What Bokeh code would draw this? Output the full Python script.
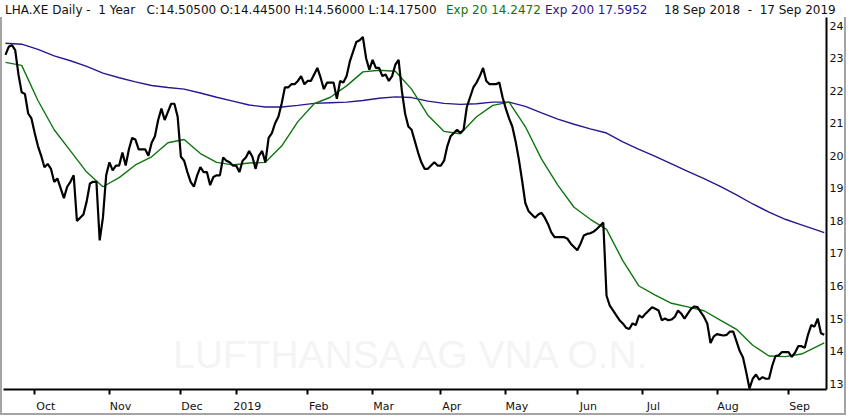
import pandas as pd
from bokeh.plotting import figure
from bokeh.layouts import column
from bokeh.models import (Label, FixedTicker, Range1d, ColumnDataSource, Div,
                          LinearAxis)
from bokeh.embed import file_html
from bokeh.resources import INLINE

# ---------------- data ----------------
holidays = ["2018-12-24", "2018-12-25", "2018-12-26", "2018-12-31",
            "2019-01-01", "2019-04-19", "2019-04-22", "2019-05-01"]
dates = pd.bdate_range("2018-09-18", "2019-09-17")
dates = dates[~dates.isin(pd.to_datetime(holidays))]

close = [
    23.1, 23.35, 23.4, 23.25, 22.5, 21.95, 21.9, 21.3, 21.15, 20.7,
    20.3, 20.0, 19.65, 19.75, 19.6, 19.2, 19.3, 19.0, 18.7, 19.05,
    19.2, 19.4, 18.0, 18.1, 18.2, 18.6, 19.15, 19.2, 19.2, 17.4,
    18.1, 19.4, 19.8, 19.55, 19.7, 19.7, 20.1, 19.7, 20.2, 20.55,
    20.5, 20.2, 20.2, 20.2, 20.0, 20.4, 20.6, 21.1, 21.45, 21.1,
    21.35, 21.6, 21.6, 21.2, 19.97, 19.85, 19.5, 19.2, 19.05, 19.4,
    19.65, 19.5, 19.5, 19.1, 19.35, 19.4, 19.4, 19.95, 19.85, 19.8,
    19.7, 19.7, 19.5, 19.85, 19.95, 20.15, 19.97, 19.6, 20.0, 20.15,
    19.8, 20.55, 20.7, 21.0, 21.2, 21.6, 22.1, 22.1, 22.2, 22.2,
    22.3, 22.45, 22.2, 22.3, 22.3, 22.5, 22.7, 22.4, 22.05, 22.25,
    22.25, 22.25, 21.75, 22.3, 22.25, 22.45, 22.9, 23.2, 23.5, 23.55,
    23.65, 23.0, 22.65, 22.95, 22.7, 22.7, 22.45, 22.5, 22.3, 22.45,
    22.8, 22.95, 22.0, 21.3, 20.9, 20.8, 20.45, 20.1, 19.8, 19.6,
    19.6, 19.7, 19.8, 19.7, 19.7, 19.85, 20.3, 20.6, 20.7, 20.8,
    20.7, 20.8, 21.5, 21.8, 22.1, 22.25, 22.45, 22.7, 22.3, 22.2,
    22.2, 22.2, 22.25, 21.8, 21.45, 21.15, 20.9, 20.45, 19.9, 19.25,
    18.55, 18.3, 18.2, 18.1, 18.2, 18.25, 18.1, 17.9, 17.65, 17.5,
    17.5, 17.5, 17.5, 17.45, 17.3, 17.2, 17.1, 17.3, 17.55, 17.6,
    17.62, 17.67, 17.75, 17.85, 17.95, 15.7, 15.4, 15.25, 15.1, 14.95,
    14.85, 14.72, 14.68, 14.85, 14.8, 15.1, 15.03, 15.15, 15.25, 15.35,
    15.3, 15.25, 14.95, 15.0, 14.95, 14.97, 15.05, 15.25, 15.15, 15.0,
    15.15, 15.3, 15.37, 15.35, 15.2, 15.05, 14.85, 14.25, 14.45, 14.52,
    14.5, 14.48, 14.5, 14.6, 14.6, 14.3, 14.0, 13.8, 13.35, 12.85,
    13.15, 13.28, 13.12, 13.2, 13.15, 13.15, 13.55, 13.85, 13.87, 13.97,
    13.97, 13.97, 13.82, 13.95, 14.15, 14.15, 14.1, 14.5, 14.8, 14.75,
    15.0, 14.55, 14.5,
]
days = list(range(len(close)))

# EMA values read weekly (every 5th trading day, plus the last day)
ema_days = list(range(0, 251, 5)) + [252]
ema20 = [
    22.87, 22.78, 21.7, 20.8, 20.15, 19.5, 19.05, 19.33, 19.72, 19.97,
    20.4, 20.5, 20.07, 19.8, 19.72, 19.78, 19.8, 20.3, 21.05, 21.6,
    21.8, 22.15, 22.58, 22.63, 22.6, 22.05, 21.25, 20.75, 20.68, 21.2,
    21.55, 21.65, 20.9, 19.9, 19.1, 18.42, 18.05, 17.74, 16.78, 16.0,
    15.72, 15.47, 15.36, 15.24, 14.95, 14.67, 14.18, 13.85, 13.83, 13.91,
    14.15, 14.25,
]
ema200 = [
    23.46, 23.43, 23.27, 23.07, 22.92, 22.75, 22.54, 22.4, 22.27, 22.16,
    22.1, 22.05, 21.93, 21.8, 21.68, 21.56, 21.5, 21.5, 21.55, 21.61,
    21.63, 21.65, 21.7, 21.77, 21.81, 21.79, 21.68, 21.61, 21.58, 21.6,
    21.65, 21.65, 21.52, 21.32, 21.13, 20.97, 20.83, 20.7, 20.43, 20.2,
    19.98, 19.75, 19.52, 19.3, 19.06, 18.8, 18.52, 18.27, 18.05, 17.88,
    17.71, 17.64,
]

month_starts = ["2018-10-01", "2018-11-01", "2018-12-01", "2019-01-01",
                "2019-02-01", "2019-03-01", "2019-04-01", "2019-05-01",
                "2019-06-01", "2019-07-01", "2019-08-01", "2019-09-01"]
month_labels = ["Oct", "Nov", "Dec", "2019", "Feb", "Mar", "Apr", "May",
                "Jun", "Jul", "Aug", "Sep"]
price_ticks = list(range(13, 25))

header_main = "LHA.XE Daily -  1 Year   C:14.50500 O:14.44500 H:14.56000 L:14.17500"
header_ema20 = "Exp 20 14.2472"
header_ema200 = "Exp 200 17.5952"
header_dates = "18 Sep 2018  -  17 Sep 2019"
watermark = "LUFTHANSA AG VNA O.N."

# ---------------- plot ----------------
tick_pos = [int((dates >= pd.Timestamp(m)).argmax()) for m in month_starts]

FONT = "DejaVu Sans"
GREEN = "#107510"
PURPLE = "#2c1590"
X0, X1 = -0.6, 252.7
LABEL_SHIFT = 3.4   # month names sit just to the right of their tick

spans = "".join(
    f'<span style="position:absolute;left:{lx}px;top:2px;color:{c};">{t}</span>'
    for t, lx, c in [(header_main, 5, "#111111"), (header_ema20, 446, GREEN),
                     (header_ema200, 545, PURPLE), (header_dates, 664, "#111111")])
header = Div(text=f'<div style="position:relative;width:850px;height:17px;'
                  f'font-family:\'{FONT}\';font-size:12px;white-space:pre;">{spans}</div>',
             width=850, height=17, margin=(0, 0, 0, 0))

p = figure(width=846, height=398, output_backend="svg",
           toolbar_location=None, y_axis_location="right",
           x_range=Range1d(X0, X1), y_range=Range1d(12.82, 24.25),
           min_border_left=1, min_border_top=0, min_border_right=22,
           min_border_bottom=22, margin=(0, 0, 0, 0),
           styles={"border-left": "2px solid #a4a4a4",
                   "border-right": "2px solid #a4a4a4",
                   "border-bottom": "2px solid #a4a4a4"})
p.extra_x_ranges = {"lab": Range1d(X0 - LABEL_SHIFT, X1 - LABEL_SHIFT)}
p.outline_line_color = None
p.grid.visible = False
p.background_fill_color = "white"
p.border_fill_color = "white"

wm = Label(x=410, y=35, x_units="screen", y_units="screen", text=watermark,
           text_align="center", text_baseline="middle",
           text_font="Liberation Sans",
           text_font_size="39px", text_color="#f4f4f4", level="underlay")
p.add_layout(wm)

src = ColumnDataSource(dict(day=days, close=close))
esrc = ColumnDataSource(dict(day=ema_days, e20=ema20, e200=ema200))
p.line("day", "e200", source=esrc, line_color=PURPLE, line_width=1.4)
p.line("day", "e20", source=esrc, line_color=GREEN, line_width=1.4)
p.line("day", "close", source=src, line_color="black", line_width=2.2)

# main bottom axis: line + ticks only
xa = p.xaxis[0]
xa.ticker = FixedTicker(ticks=tick_pos, minor_ticks=[])
xa.major_label_overrides = {t: " " for t in tick_pos}
xa.major_label_text_font_size = "1px"
xa.major_label_standoff = 0
xa.minor_tick_line_color = None
xa.major_tick_in = 0
xa.major_tick_out = 5
xa.major_tick_line_color = "#000000"
xa.major_tick_line_width = 2
xa.major_tick_line_alpha = 1.0
xa.axis_line_width = 2
xa.axis_line_color = "black"

# label axis (shifted so names start at the tick)
la = LinearAxis(x_range_name="lab", ticker=FixedTicker(ticks=tick_pos, minor_ticks=[]),
                major_label_overrides={t: l for t, l in zip(tick_pos, month_labels)},
                axis_line_color=None, major_tick_line_color=None,
                minor_tick_line_color=None, major_tick_in=0, major_tick_out=0,
                major_label_standoff=1, major_label_text_font=FONT,
                major_label_text_font_size="11px",
                major_label_text_color="#111111")
p.add_layout(la, "below")

ya = p.yaxis[0]
ya.ticker = FixedTicker(ticks=price_ticks, minor_ticks=[])
ya.minor_tick_line_color = None
ya.major_tick_in = 0
ya.major_tick_out = 0
ya.axis_line_width = 2
ya.axis_line_color = "black"
ya.major_label_text_font = FONT
ya.major_label_text_font_size = "11px"
ya.major_label_text_color = "#111111"
ya.major_label_standoff = 3

layout = column(header, p, spacing=0)
open("out.html", "w").write(file_html(layout, INLINE))
